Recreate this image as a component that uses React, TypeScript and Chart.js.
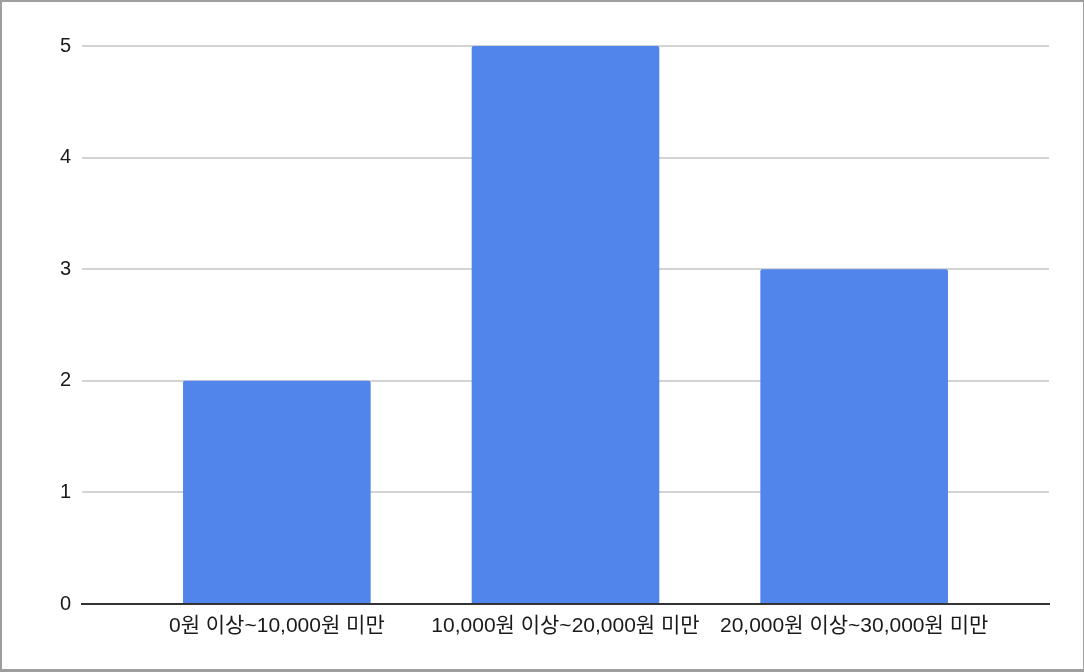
import React, { useEffect, useRef } from "react";
import { Chart, registerables } from "chart.js";

Chart.register(...registerables);

const categories = ["0원 이상~10,000원 미만", "10,000원 이상~20,000원 미만", "20,000원 이상~30,000원 미만"];
const counts = [2, 5, 3];
const yTicks = [0, 1, 2, 3, 4, 5];

const FONT = "'Liberation Sans', Arial, 'Noto Sans CJK KR', sans-serif";

export default function App() {
  const ref = useRef<HTMLCanvasElement | null>(null);

  useEffect(() => {
    document.body.style.margin = "0";
    const canvas = ref.current;
    if (!canvas) return;
    const chart = new Chart(canvas, {
      type: "bar",
      data: {
        datasets: [
          {
            data: counts.map((v, i) => ({ x: i, y: v })),
            backgroundColor: "#5185ec",
            borderRadius: 2,
            borderSkipped: "bottom",
            barPercentage: 0.65,
            categoryPercentage: 1,
          },
        ],
      },
      options: {
        animation: false,
        responsive: false,
        maintainAspectRatio: false,
        layout: { padding: { top: 46, right: 35, left: 0, bottom: 0 } },
        plugins: { legend: { display: false }, tooltip: { enabled: false } },
        scales: {
          x: {
            type: "linear",
            offset: false,
            min: -0.675,
            max: categories.length - 1 + 0.675,
            afterBuildTicks: (scale: any) => {
              scale.ticks = categories.map((_, i) => ({ value: i }));
            },
            afterFit: (scale: any) => {
              scale.height = 68;
            },
            ticks: {
              autoSkip: false,
              maxRotation: 0,
              padding: 10,
              color: "#1a1a1a",
              font: { family: FONT, size: 21 },
              callback: (v: any) => categories[Number(v)] ?? "",
            },
            grid: { display: false, drawTicks: false },
            border: { display: true, color: "#333333", width: 2 },
          },
          y: {
            min: 0,
            max: 5,
            afterBuildTicks: (scale: any) => {
              scale.ticks = yTicks.map((v) => ({ value: v }));
            },
            afterFit: (scale: any) => {
              scale.width = 82;
            },
            ticks: {
              padding: 11,
              color: "#1a1a1a",
              font: { family: FONT, size: 20 },
            },
            grid: { color: "#d3d3d3", lineWidth: 2, drawTicks: false },
            border: { display: false },
          },
        },
      },
    });
    return () => chart.destroy();
  }, []);

  return (
    <div style={{ position: "relative", width: 1084, height: 672 }}>
      <canvas ref={ref} width={1084} height={672} style={{ position: "absolute", left: 0, top: 0, width: 1084, height: 672 }} />
      <div
        style={{
          position: "absolute",
          left: 0,
          top: 0,
          width: 1084,
          height: 672,
          boxSizing: "border-box",
          borderStyle: "solid",
          borderColor: "#9e9e9e",
          borderWidth: "2px 1px 3px 2px",
          pointerEvents: "none",
        }}
      />
    </div>
  );
}
